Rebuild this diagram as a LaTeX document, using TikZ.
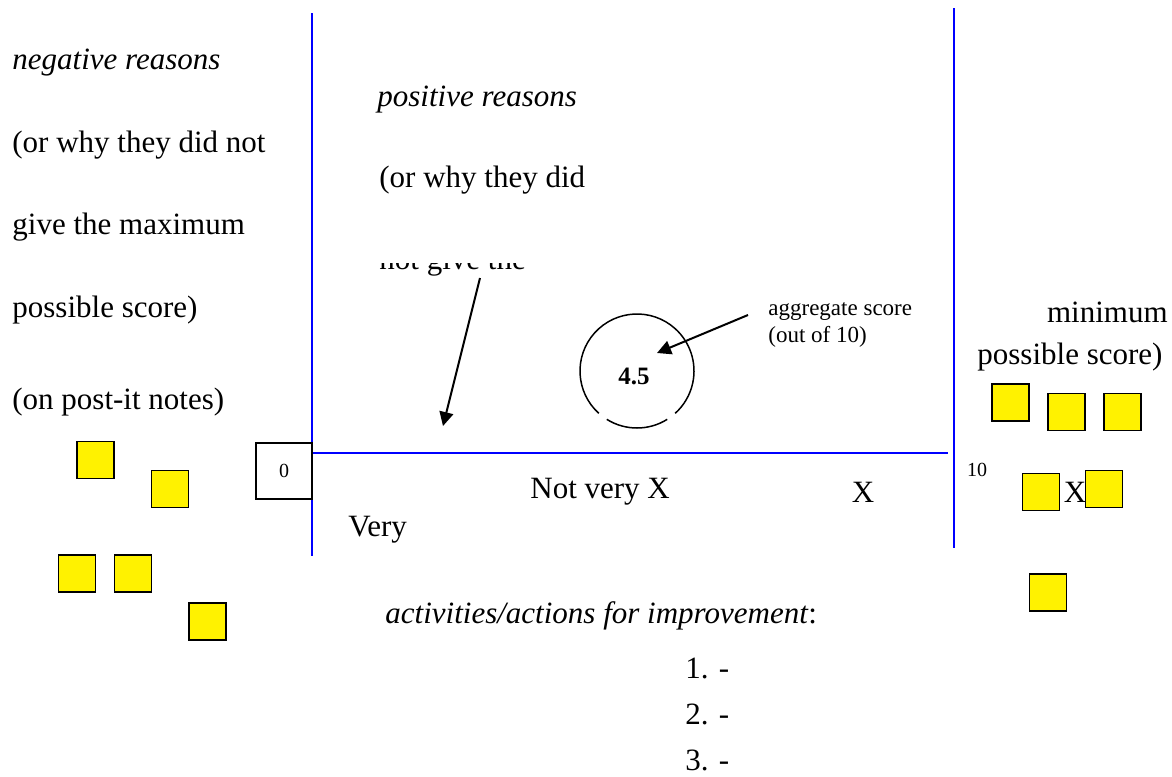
\documentclass[tikz,border=0pt]{standalone}
\usepackage{fontspec}
\setmainfont{Liberation Serif}
\usetikzlibrary{arrows.meta}

\begin{document}
\begin{tikzpicture}
[
    x=0.5pt, y=-0.5pt,
    bodytext/.style={font=\fontsize{15.5}{18}\selectfont, inner sep=0pt, anchor=west},
    smalltext/.style={font=\fontsize{11.5}{13}\selectfont, inner sep=0pt, anchor=west},
    postit/.style={draw, fill=yellow, line width=0.8pt, minimum size=18.5pt, inner sep=0pt},
    scaleline/.style={draw=blue, line width=1pt},
    pointer/.style={line width=1pt, -{Triangle[length=7pt,width=7pt]}}
]
    \useasboundingbox (0,0) rectangle (1172,776);

    % the scale
    \draw [scaleline] (312,13) -- (312,556);
    \draw [scaleline] (954,8) -- (954,548);
    \draw [scaleline] (312,453) -- (948,453);
    \node [draw, line width=0.6pt, minimum size=28pt, inner sep=0pt,
           font=\fontsize{10}{12}\selectfont] (zerobox) at (284,471) {0};
    \node [font=\fontsize{10}{12}\selectfont, inner sep=0pt] (ten) at (977,470) {10};
    \node [bodytext] (notvery) at (530,492) {Not very X};
    \node [bodytext, anchor=center] (xmid) at (863,492) {X};
    \node [bodytext] (very) at (348,530) {Very};
    \node [bodytext, anchor=center] (xright) at (1075,492) {X};

    % negative side
    \node [bodytext] (neg1) at (12,63) {\textit{negative reasons}};
    \node [bodytext] (neg2) at (12,145) {(or why they did not};
    \node [bodytext] (neg3) at (12,227) {give the maximum};
    \node [bodytext] (neg4) at (12,310) {possible score)};
    \node [bodytext] (neg5) at (12,402) {(on post-it notes)};

    % positive side
    \node [bodytext] (pos1) at (377,100) {\textit{positive reasons}};
    \node [bodytext] (pos2) at (379,180) {(or why they did};
    \begin{scope}
        \clip (370,263) rectangle (560,300);
        \node [bodytext] (pos3) at (379,262) {not give the};
    \end{scope}
    \node [bodytext, anchor=east] (min1) at (1168,312) {minimum};
    \node [bodytext] (min2) at (977,357) {possible score)};

    % aggregate score
    \coordinate (ring) at (637,371);
    \draw [line width=0.75pt] (ring) ++(132:57) arc (132:408:57);
    \draw [line width=0.75pt] (ring) ++(58:57) arc (58:122:57);
    \node [font=\bfseries\fontsize{12.5}{14}\selectfont, inner sep=0pt] (score) at (634,376) {4.5};
    \node [smalltext] (agg1) at (768,312) {aggregate score};
    \node [smalltext] (agg2) at (768,337) {(out of 10)};
    \coordinate (aggtail) at (748,315);
    \coordinate (agghead) at (657,353);
    \draw [pointer] (aggtail) -- (agghead);
    \coordinate (postail) at (480,278);
    \coordinate (poshead) at (443,426);
    \draw [pointer] (postail) -- (poshead);

    % post-it notes
    \node [postit] (pl1) at (95.5,460) {};
    \node [postit] (pl2) at (170,489) {};
    \node [postit] (pl3) at (77,573.5) {};
    \node [postit] (pl4) at (133,573.5) {};
    \node [postit] (pl5) at (207.5,621.5) {};
    \node [postit] (pr1) at (1010.5,402.5) {};
    \node [postit] (pr2) at (1066.5,412) {};
    \node [postit] (pr3) at (1122.5,412) {};
    \node [postit] (pr4) at (1041,492) {};
    \node [postit] (pr5) at (1104,489) {};
    \node [postit] (pr6) at (1048,592.5) {};

    % improvement list
    \node [bodytext] (acts) at (385,616) {\textit{activities/actions for improvement}:};
    \node [bodytext] (act1) at (685,668) {1. -};
    \node [bodytext] (act2) at (685,714) {2. -};
    \node [bodytext] (act3) at (685,760) {3. -};
\end{tikzpicture}
\end{document}
